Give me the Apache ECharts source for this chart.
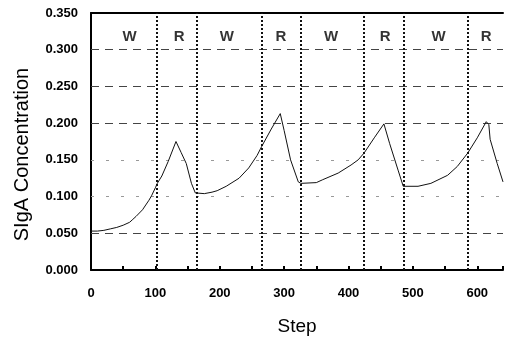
<!DOCTYPE html>
<html>
<head>
<meta charset="utf-8">
<script src="https://cdn.jsdelivr.net/npm/echarts@6/dist/echarts.min.js"></script>
<style>html,body{margin:0;padding:0;background:#fff}#c{width:506px;height:341px}</style>
</head>
<body>
<div id="c"></div>
<script>
// Data
const steps = [0,10,20,30,40,50,60,65,70,80,90,94,100,103,104,110,120,132,140,148,156,162,164,176,188,196,210,230,245,258,265,280,294,296,300,310,322,326,350,360,384,404,415,424,440,455,457,464,477,485,508,528,554,569,585,600,614,618,620,631,640];
const sigA  = [0.053,0.053,0.054,0.056,0.058,0.061,0.065,0.069,0.073,0.082,0.095,0.101,0.112,0.118,0.116,0.128,0.148,0.175,0.160,0.145,0.118,0.105,0.104,0.104,0.106,0.108,0.114,0.125,0.139,0.156,0.168,0.192,0.213,0.212,0.190,0.150,0.120,0.118,0.119,0.123,0.132,0.143,0.150,0.159,0.180,0.199,0.199,0.172,0.136,0.114,0.114,0.118,0.129,0.141,0.159,0.180,0.202,0.198,0.178,0.145,0.120];
const phaseBoundaries = [102,164,265,326,424,486,586];
const phaseLabels = ['W','R','W','R','W','R','W','R'];
const phaseLabelX = [60,137,211,295,373,457,540,614];
const phaseLabelY = 0.318;
const dashedGrid = [0.05,0.2,0.25,0.3];
const lightGrid = [0.1,0.15];
const xTicks = [0,100,200,300,400,500,600];

const chart = echarts.init(document.getElementById('c'), null, {renderer:'canvas'});
const font = 'Liberation Sans, Arial, sans-serif';
chart.setOption({
  animation:false,
  backgroundColor:'#fff',
  grid:{left:91, top:13, right:0, bottom:68},
  xAxis:[{
    type:'value', min:0, max:640, interval:100,
    name:'Step', nameLocation:'middle', nameGap:47,
    nameTextStyle:{fontFamily:font, fontSize:19, color:'#000'},
    axisLine:{lineStyle:{color:'#000', width:2}},
    axisTick:{show:true, inside:true, length:4, lineStyle:{color:'#000', width:2}},
    minorTick:{show:true, splitNumber:2, length:4, lineStyle:{color:'#000', width:2}},
    splitLine:{show:false},
    axisLabel:{fontFamily:font, fontSize:13, fontWeight:'bold', color:'#000', margin:17,
      formatter:v => xTicks.includes(v) ? String(v) : ''}
  },{
    type:'value', min:0, max:640, position:'top',
    axisLine:{show:true, lineStyle:{color:'#000', width:2}},
    axisTick:{show:false}, axisLabel:{show:false}, splitLine:{show:false}
  }],
  yAxis:{
    type:'value', min:0, max:0.35, interval:0.05,
    name:'SIgA Concentration', nameLocation:'middle', nameGap:59, nameRotate:90,
    nameTextStyle:{fontFamily:font, fontSize:20, color:'#000', padding:[0,26,0,0]},
    axisLine:{show:true, lineStyle:{color:'#000', width:2}},
    axisTick:{show:false},
    splitLine:{show:false},
    axisLabel:{fontFamily:font, fontSize:13, fontWeight:'bold', color:'#000', margin:13,
      formatter:v => v.toFixed(3)}
  },
  series:[
    {
      type:'line', data:[], silent:true,
      markLine:{
        symbol:'none', silent:true, label:{show:false},
        data:[
          ...dashedGrid.map(v => ({yAxis:v, lineStyle:{color:'#444', width:1, type:[8,6]}})),
          ...lightGrid.map(v => ({yAxis:v, lineStyle:{color:'#999', width:1, type:[3,12]}}))
        ]
      }
    },
    {
      type:'line', data:[], silent:true,
      markLine:{
        symbol:'none', silent:true, label:{show:false},
        lineStyle:{color:'#111', width:2, type:'dotted'},
        data: phaseBoundaries.map(v => ({xAxis:v}))
      }
    },
    {
      type:'line', data: steps.map((s,i)=>[s, sigA[i]]),
      showSymbol:false, symbol:'none',
      lineStyle:{color:'#111', width:1}, z:5
    },
    {
      type:'scatter', symbolSize:0, silent:true,
      data: phaseLabels.map((t,i)=>({value:[phaseLabelX[i], phaseLabelY], name:t})),
      label:{show:true, position:'inside', formatter:p=>p.name,
        fontFamily:font, fontSize:15, fontWeight:'bold', color:'#000'}
    }
  ]
});
</script>
</body>
</html>
